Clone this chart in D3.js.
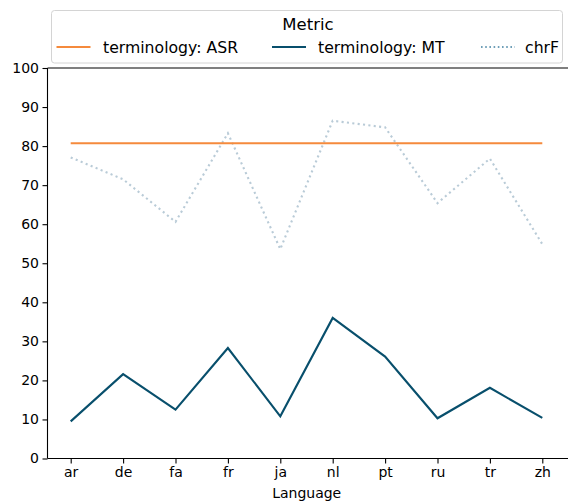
<!DOCTYPE html>
<html>
<head>
<meta charset="utf-8">
<script src="https://cdn.jsdelivr.net/npm/d3@7"></script>
<style>
  html, body { margin: 0; padding: 0; background: #fff; }
  svg { display: block; font-family: "DejaVu Sans", sans-serif; }
</style>
</head>
<body>
<svg id="chart" width="568" height="501"></svg>
<script>
const languages = ["ar", "de", "fa", "fr", "ja", "nl", "pt", "ru", "tr", "zh"];
const asrValues = [80.7, 80.7, 80.7, 80.7, 80.7, 80.7, 80.7, 80.7, 80.7, 80.7];
const mtValues  = [9.5, 21.6, 12.5, 28.3, 10.8, 36.0, 26.1, 10.3, 18.1, 10.4];
const chrfValues = [77.1, 71.5, 60.6, 83.3, 53.6, 86.5, 84.8, 65.4, 76.8, 54.9];
const yTicks = [0, 10, 20, 30, 40, 50, 60, 70, 80, 90, 100];
const seriesNames = ["terminology: ASR", "terminology: MT", "chrF"];

(function () {
const svg = d3.select("#chart");
const plotLeft = 47.5, plotTop = 68, plotBottom = 458.5;

const x = d3.scalePoint().domain(languages).range([70.7, 542.3]);
const y = d3.scaleLinear().domain([0, 100]).range([plotBottom, plotTop]);

// top spine
svg.append("line").attr("x1", plotLeft).attr("x2", 600).attr("y1", plotTop).attr("y2", plotTop)
  .attr("stroke", "#000").attr("stroke-width", 1.1);

const yAxis = svg.append("g").attr("transform", `translate(${plotLeft},0)`)
  .call(d3.axisLeft(y).tickValues(yTicks).tickSize(5).tickPadding(3.5));
const xAxis = svg.append("g").attr("transform", `translate(0,${plotBottom})`)
  .call(d3.axisBottom(x).tickSize(5).tickPadding(3.5));
[yAxis, xAxis].forEach(g => {
  g.selectAll("text").attr("font-size", "14px").attr("fill", "#000").attr("font-family", "DejaVu Sans");
  g.selectAll("line").attr("stroke", "#000").attr("stroke-width", 1.1);
  g.select(".domain").attr("stroke", "#000").attr("stroke-width", 1.1);
});
xAxis.select(".domain").attr("d", `M${plotLeft},0H600`);
yAxis.select(".domain").attr("d", `M0,${plotBottom}V${plotTop}`);

svg.append("text").attr("x", 306.7).attr("y", 498).attr("text-anchor", "middle")
  .attr("font-size", "14px").text("Language");

const line = d3.line().x((d, i) => x(languages[i])).y(d => y(d));

svg.append("path").datum(chrfValues).attr("d", line).attr("fill", "none")
  .attr("stroke", "#b9cbd7").attr("stroke-width", 2.1).attr("stroke-dasharray", "2.1,3.3");
svg.append("path").datum(asrValues).attr("d", line).attr("fill", "none")
  .attr("stroke", "#f58a3c").attr("stroke-width", 2);
svg.append("path").datum(mtValues).attr("d", line).attr("fill", "none")
  .attr("stroke", "#084f6c").attr("stroke-width", 2.1);

// legend
const lg = svg.append("g");
lg.append("rect").attr("x", 51.5).attr("y", 10.5).attr("width", 511).attr("height", 52.5)
  .attr("rx", 3).attr("fill", "#fff").attr("fill-opacity", 0.8).attr("stroke", "#d4d4d4");
lg.append("text").attr("x", 308).attr("y", 29.5).attr("text-anchor", "middle")
  .attr("font-size", "16.5px").text("Metric");
const legendItems = [
  { name: seriesNames[0], x0: 56.5, tx: 103, color: "#f58a3c", dash: null },
  { name: seriesNames[1], x0: 272, tx: 318, color: "#084f6c", dash: null },
  { name: seriesNames[2], x0: 481, tx: 525, color: "#3f7fa0", dash: "1.6,2.6" }
];
legendItems.forEach(it => {
  lg.append("line").attr("x1", it.x0).attr("x2", it.x0 + 34).attr("y1", 47).attr("y2", 47)
    .attr("stroke", it.color).attr("stroke-width", it.dash ? 1.5 : 2)
    .attr("stroke-dasharray", it.dash);
  lg.append("text").attr("x", it.tx).attr("y", 53).attr("font-size", "15.7px").text(it.name);
});
})();
</script>
</body>
</html>
